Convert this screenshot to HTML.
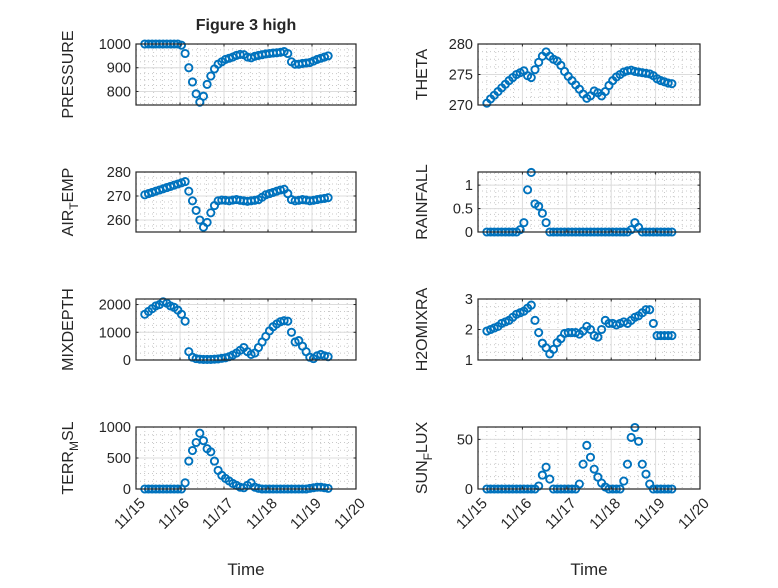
<!DOCTYPE html>
<html><head><meta charset="utf-8"><style>
body{margin:0;background:#fff;}
svg text{font-family:"Liberation Sans","DejaVu Sans",sans-serif;fill:#262626;}
</style></head><body>
<svg id="fig" width="778" height="583" xmlns="http://www.w3.org/2000/svg">
<rect width="778" height="583" fill="#fff"/>
<text x="246" y="30" font-size="16" font-weight="bold" text-anchor="middle">Figure 3 high</text>
</svg>
<script>
const timeStart = 15.2;
const timeStep = 1/12;
const pressure = [1000,1000,1000,1000,1000,1000,1000,1000,1000,1000,995,960,900,840,790,755,780,830,865,895,915,925,935,940,945,952,956,955,945,942,948,952,955,958,960,962,963,965,968,960,925,915,915,918,920,922,928,935,940,945,950];
const theta = [270.3,271,271.6,272.2,272.8,273.4,274,274.5,275,275.3,275.6,274.8,274.5,275.8,277,278,278.7,278,277.5,277.2,276.5,275.5,274.7,274,273.3,272.6,271.8,271.1,271.5,272.3,272,271.5,272.2,273.2,274,274.6,275,275.4,275.6,275.7,275.5,275.4,275.3,275.2,275.1,274.8,274.3,274,273.8,273.6,273.5];
const airTemp = [270.5,271,271.5,272,272.5,273,273.5,274,274.5,275,275.5,276,272,268,264,260,257,259,263,266,268,268.3,268.2,268,268.3,268.5,268.2,268,267.8,268,268.2,268.5,269.5,270.5,271,271.5,272,272.5,272.8,271,268.5,268,268.2,268.5,268.3,268,268.2,268.5,268.8,269,269.3];
const rainfall = [0,0,0,0,0,0,0,0,0,0.05,0.2,0.9,1.27,0.6,0.55,0.4,0.2,0,0,0,0,0,0,0,0,0,0,0,0,0,0,0,0,0,0,0,0,0,0,0.05,0.2,0.1,0,0,0,0,0,0,0,0,0];
const mixDepth = [1650,1750,1850,1950,2000,2100,2050,1950,1900,1800,1650,1400,300,100,50,30,20,20,20,30,40,60,80,120,180,250,350,450,300,200,250,450,650,850,1050,1200,1300,1380,1420,1400,1000,650,700,500,300,100,50,150,200,150,120];
const h2oMix = [1.95,2.0,2.05,2.1,2.2,2.25,2.3,2.4,2.5,2.55,2.6,2.7,2.8,2.3,1.9,1.55,1.4,1.2,1.35,1.57,1.7,1.87,1.9,1.9,1.9,1.85,1.95,2.1,2.0,1.8,1.75,2.0,2.3,2.2,2.2,2.15,2.2,2.25,2.2,2.3,2.4,2.45,2.55,2.65,2.65,2.2,1.8,1.8,1.8,1.8,1.8];
const terrMsl = [0,0,0,0,0,0,0,0,0,0,0,100,450,620,750,900,780,650,600,450,300,220,170,130,90,60,30,20,60,100,30,10,0,0,0,0,0,0,0,0,0,0,0,0,0,10,20,30,30,20,10];
const sunFlux = [0,0,0,0,0,0,0,0,0,0,0,0,0,0,3,14,22,10,0,0,0,0,0,0,0,5,25,44,32,20,12,6,2,0,0,0,0,8,25,52,62,48,25,15,5,0,0,0,0,0,0];
const xTickLabels = ["11/15","11/16","11/17","11/18","11/19","11/20"];
const xTickDays = [15,16,17,18,19,20];

const NS="http://www.w3.org/2000/svg";
const svg=document.getElementById('fig');
function mk(tag,attrs,parent){const e=document.createElementNS(NS,tag);for(const k in attrs)e.setAttribute(k,attrs[k]);(parent||svg).appendChild(e);return e;}

const panels=[
 {name:'pressure',data:pressure,col:0,row:0,ymin:743,ymax:1000,ticks:[800,900,1000],tl:['800','900','1000'],label:['PRESSURE']},
 {name:'theta',data:theta,col:1,row:0,ymin:270,ymax:280,ticks:[270,275,280],tl:['270','275','280'],label:['THETA']},
 {name:'air-temp',data:airTemp,col:0,row:1,ymin:255,ymax:280,ticks:[260,270,280],tl:['260','270','280'],label:['AIR','T','EMP']},
 {name:'rainfall',data:rainfall,col:1,row:1,ymin:0,ymax:1.28,ticks:[0,0.5,1],tl:['0','0.5','1'],label:['RAINFALL']},
 {name:'mixdepth',data:mixDepth,col:0,row:2,ymin:0,ymax:2200,ticks:[0,1000,2000],tl:['0','1000','2000'],label:['MIXDEPTH']},
 {name:'h2omixra',data:h2oMix,col:1,row:2,ymin:1,ymax:3,ticks:[1,2,3],tl:['1','2','3'],label:['H2OMIXRA']},
 {name:'terr-msl',data:terrMsl,col:0,row:3,ymin:0,ymax:1000,ticks:[0,500,1000],tl:['0','500','1000'],label:['TERR','M','SL']},
 {name:'sun-flux',data:sunFlux,col:1,row:3,ymin:0,ymax:62.5,ticks:[0,50],tl:['0','50'],label:['SUN','F','LUX']}
];
const colX=[[136,356],[478,700]];
const rowY=[[44,105],[172,232],[299,360],[427,489]];

panels.forEach(p=>{
  const [x0,x1]=colX[p.col],[y0,y1]=rowY[p.row];
  const g=mk('g',{});
  
  
  const xs=d=>x0+(d-15)/5*(x1-x0);
  const ys=v=>y1-(v-p.ymin)/(p.ymax-p.ymin)*(y1-y0);
  for(let d=15;d<20;d+=0.2){ if(Math.abs(d-Math.round(d))<1e-6)continue;
    mk('line',{x1:xs(d),x2:xs(d),y1:y0,y2:y1,stroke:'#c8c8c8','stroke-width':1,'stroke-dasharray':'1,3'},g);}
  const step=p.ticks[1]-p.ticks[0], ms=step/4;
  for(let v=p.ticks[0]-step;v<=p.ymax+1e-9;v+=ms){ if(v<p.ymin)continue;
    mk('line',{x1:x0,x2:x1,y1:ys(v),y2:ys(v),stroke:'#c8c8c8','stroke-width':1,'stroke-dasharray':'1,3'},g);}
  xTickDays.forEach(d=>mk('line',{x1:xs(d),x2:xs(d),y1:y0,y2:y1,stroke:'#dcdcdc','stroke-width':1},g));
  p.ticks.forEach(v=>mk('line',{x1:x0,x2:x1,y1:ys(v),y2:ys(v),stroke:'#dcdcdc','stroke-width':1},g));
  p.data.forEach((v,i)=>{
    const c=mk('circle',{cx:xs(timeStart+i*timeStep),cy:ys(v),r:3.6,fill:'none',stroke:'#0072BD','stroke-width':1.9},g);
    
    
  });
  mk('rect',{x:x0,y:y0,width:x1-x0,height:y1-y0,fill:'none',stroke:'#262626','stroke-width':1.2},g);
  xTickDays.forEach(d=>{mk('line',{x1:xs(d),x2:xs(d),y1:y1,y2:y1-2.5,stroke:'#262626'},g);mk('line',{x1:xs(d),x2:xs(d),y1:y0,y2:y0+2.5,stroke:'#262626'},g);});
  p.ticks.forEach((v,k)=>{
    mk('line',{x1:x0,x2:x0+2.5,y1:ys(v),y2:ys(v),stroke:'#262626'},g);
    mk('line',{x1:x1,x2:x1-2.5,y1:ys(v),y2:ys(v),stroke:'#262626'},g);
    const t=mk('text',{x:x0-5,y:ys(v)+5,'font-size':14.5,'text-anchor':'end'},g);
    t.textContent=p.tl[k];
    
    
  });
  const lx=p.col===0?73:427;
  const lbl=mk('text',{x:lx,y:(y0+y1)/2,'font-size':16,'text-anchor':'middle',transform:`rotate(-90 ${lx} ${(y0+y1)/2})`},g);
  
  
  if(p.label.length===1){lbl.textContent=p.label[0];}
  else{
    const a=mk('tspan',{},lbl);a.textContent=p.label[0];
    const b=mk('tspan',{dy:5,'font-size':12},lbl);b.textContent=p.label[1];
    const c=mk('tspan',{dy:-5},lbl);c.textContent=p.label[2];
  }
  if(p.row===3){
    xTickLabels.forEach((s,k)=>{
      const tx=xs(xTickDays[k])+3, ty=y1+8;
      const t=mk('text',{x:tx,y:ty,'font-size':15,'text-anchor':'end',transform:`rotate(-45 ${tx} ${ty})`,dy:10},g);
      t.textContent=s;
      
      
    });
    const tt=mk('text',{x:(x0+x1)/2,y:575,'font-size':17,'text-anchor':'middle'},g);
    tt.textContent='Time';
    
    
  }
});
</script>
</body></html>
